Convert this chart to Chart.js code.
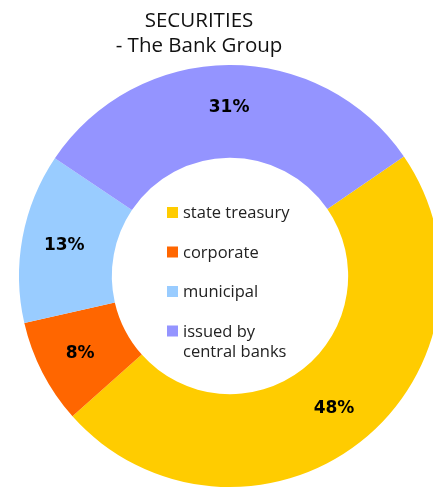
<!DOCTYPE html>
<html>
<head>
<meta charset="utf-8">
<script src="https://cdn.jsdelivr.net/npm/chart.js@4"></script>
<style>
  html, body { margin: 0; padding: 0; overflow: hidden; background: #fff; }
  #wrap { position: absolute; left: 0; top: 0; width: 460px; height: 488px; }
</style>
</head>
<body>
<div id="wrap"><canvas id="c"></canvas></div>
<script>
const titleLines = ['SECURITIES', '- The Bank Group'];
const categories = ['state treasury', 'corporate', 'municipal', ['issued by', 'central banks']];
const values = [48, 8, 13, 31];
const colors = ['#FFCC00', '#FF6600', '#99CCFF', '#9494FF'];

const labelsPlugin = {
  id: 'sliceLabels',
  afterDatasetsDraw(chart) {
    const ctx = chart.ctx;
    const meta = chart.getDatasetMeta(0);
    const total = values.reduce((a, b) => a + b, 0);
    ctx.save();
    ctx.font = 'bold 17px "DejaVu Sans"';
    ctx.fillStyle = '#000';
    ctx.textAlign = 'center';
    ctx.textBaseline = 'middle';
    meta.data.forEach((arc, i) => {
      const mid = (arc.startAngle + arc.endAngle) / 2;
      const r = (arc.innerRadius + arc.outerRadius) / 2 + 4;
      const x = arc.x + Math.cos(mid) * r;
      const y = arc.y + Math.sin(mid) * r;
      const pct = Math.round(values[i] / total * 100) + '%';
      ctx.fillText(pct, x, y);
    });
    ctx.restore();
  }
};

const titleLegendPlugin = {
  id: 'titleLegend',
  afterDraw(chart) {
    const ctx = chart.ctx;
    const meta = chart.getDatasetMeta(0);
    const arc0 = meta.data[0];
    const cx = arc0.x, cy = arc0.y;
    ctx.save();
    ctx.fillStyle = '#111';
    ctx.font = '20.5px "Open Sans"';
    ctx.textAlign = 'center';
    ctx.textBaseline = 'alphabetic';
    ctx.fillText(titleLines[0], 199, 27);
    ctx.fillText(titleLines[1], 199, 52);
    ctx.textAlign = 'left';
    ctx.font = '16.5px "Open Sans"';
    const bx = cx - 63;
    let by = cy - 69;
    categories.forEach((lab, i) => {
      ctx.fillStyle = colors[i];
      ctx.fillRect(bx, by, 11, 11);
      ctx.fillStyle = '#222';
      const lines = Array.isArray(lab) ? lab : [lab];
      lines.forEach((ln, j) => {
        ctx.fillText(ln, bx + 16, by + 11 + j * 20);
      });
      by += 39.5;
    });
    ctx.restore();
  }
};

new Chart(document.getElementById('c'), {
  type: 'doughnut',
  data: {
    labels: categories,
    datasets: [{
      data: values,
      backgroundColor: colors,
      borderWidth: 0,
      hoverOffset: 0
    }]
  },
  options: {
    responsive: true,
    maintainAspectRatio: false,
    animation: false,
    rotation: 55.5,
    cutout: '56%',
    layout: { padding: { top: 65, bottom: 1, left: 0, right: 0 } },
    plugins: {
      legend: { display: false },
      title: { display: false },
      tooltip: { enabled: false }
    }
  },
  plugins: [labelsPlugin, titleLegendPlugin]
});
</script>
</body>
</html>
